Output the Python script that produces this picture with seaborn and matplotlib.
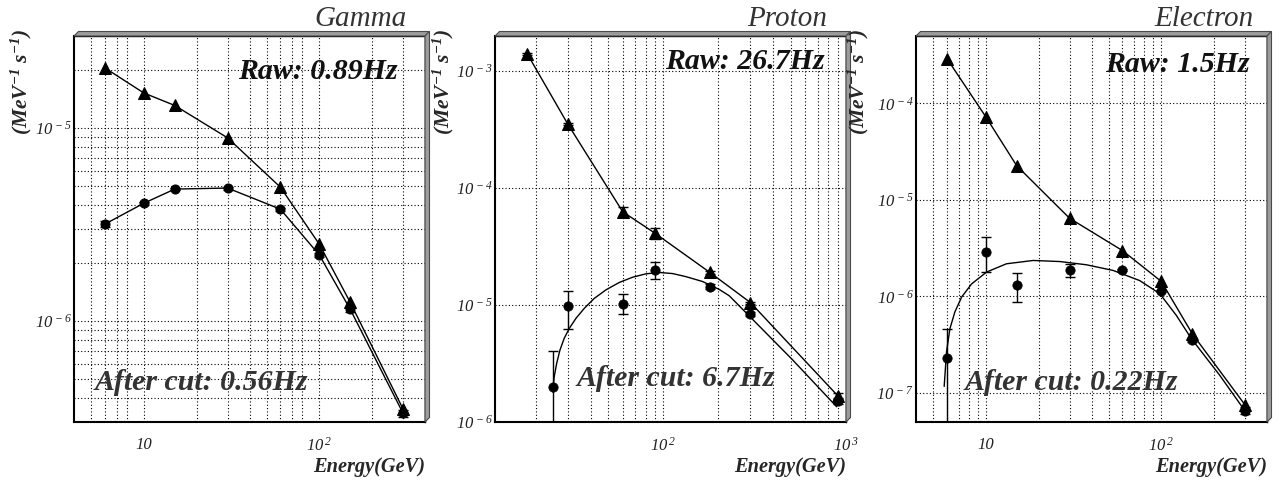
import numpy as np
import matplotlib
matplotlib.use("Agg")
import matplotlib.pyplot as plt
from matplotlib.patches import Polygon
from matplotlib.ticker import FixedLocator, NullFormatter, FuncFormatter
import seaborn as sns

sns.set_style("white")
plt.rcParams["font.family"] = ["Liberation Serif", "DejaVu Serif"]
plt.rcParams["mathtext.fontset"] = "custom"
plt.rcParams["mathtext.rm"] = "Liberation Serif:italic"
plt.rcParams["mathtext.it"] = "Liberation Serif:italic"
plt.rcParams["mathtext.bf"] = "Liberation Serif:italic:bold"

# ---------------- data ----------------
# Gamma
gamma_energy = [6, 10, 15, 30, 60, 100, 150, 300]
gamma_raw = [2.05e-5, 1.52e-5, 1.31e-5, 8.9e-6, 4.94e-6, 2.5e-6, 1.25e-6, 3.5e-7]
gamma_cut = [3.18e-6, 4.08e-6, 4.83e-6, 4.89e-6, 3.8e-6, 2.2e-6, 1.15e-6, 3.33e-7]
gamma_cut_lo = [3.06e-6, 4.0e-6, 4.75e-6, 4.8e-6, 3.74e-6, 2.16e-6, 1.12e-6, 3.2e-7]
gamma_cut_hi = [3.30e-6, 4.16e-6, 4.91e-6, 4.98e-6, 3.86e-6, 2.24e-6, 1.18e-6, 3.46e-7]

# Proton
proton_raw_energy = [18, 30, 60, 90, 180, 300, 900]
proton_raw = [1.41e-3, 3.54e-4, 6.28e-5, 4.12e-5, 1.90e-5, 1.05e-5, 1.68e-6]
proton_raw_lo = [1.38e-3, 3.48e-4, 5.75e-5, 3.66e-5, 1.86e-5, 1.03e-5, 1.6e-6]
proton_raw_hi = [1.44e-3, 3.60e-4, 6.86e-5, 4.6e-5, 1.94e-5, 1.07e-5, 1.76e-6]
proton_cut_energy = [25, 30, 60, 90, 180, 300, 900]
proton_cut = [2.0e-6, 9.8e-6, 1.02e-5, 2.0e-5, 1.44e-5, 8.4e-6, 1.5e-6]
proton_cut_lo = [1e-9, 6.24e-6, 8.4e-6, 1.66e-5, 1.36e-5, 8.1e-6, 1.42e-6]
proton_cut_hi = [4.05e-6, 1.32e-5, 1.24e-5, 2.35e-5, 1.52e-5, 8.7e-6, 1.58e-6]
proton_fit_energy = [24.8, 25.3, 26.1, 27.2, 28.7, 30.6, 33.3, 37.0, 41.9, 48.6, 57.4,
                     67.9, 80.4, 95.1, 112.4, 133.1, 164.1, 202.5, 229.8, 298, 512, 889]
proton_fit = [1.81e-6, 2.43e-6, 3.17e-6, 4.12e-6, 5.19e-6, 6.32e-6, 7.71e-6, 9.39e-6,
              1.14e-5, 1.35e-5, 1.56e-5, 1.73e-5, 1.85e-5, 1.90e-5, 1.86e-5, 1.75e-5,
              1.59e-5, 1.36e-5, 1.20e-5, 7.96e-6, 3.38e-6, 1.35e-6]

# Electron
electron_energy = [6, 10, 15, 30, 60, 100, 150, 300]
electron_raw = [2.92e-4, 7.26e-5, 2.26e-5, 6.46e-6, 2.99e-6, 1.43e-6, 4.11e-7, 7.5e-8]
electron_cut = [2.31e-7, 2.92e-6, 1.30e-6, 1.90e-6, 1.89e-6, 1.14e-6, 3.51e-7, 6.56e-8]
electron_cut_lo = [1e-9, 1.79e-6, 8.75e-7, 1.59e-6, 1.84e-6, 1.10e-6, 3.35e-7, 6.0e-8]
electron_cut_hi = [4.63e-7, 4.11e-6, 1.75e-6, 2.18e-6, 1.94e-6, 1.18e-6, 3.67e-7, 7.1e-8]
electron_fit_energy = [5.79, 5.97, 6.24, 6.66, 7.28, 8.30, 10.1, 13.1, 18.6, 26.4, 37.4,
                       53.1, 75.3, 97.9, 121.7, 148.2, 214.8, 295.4]
electron_fit = [1.17e-7, 2.66e-7, 4.63e-7, 6.90e-7, 9.86e-7, 1.35e-6, 1.79e-6, 2.18e-6,
                2.36e-6, 2.30e-6, 2.13e-6, 1.86e-6, 1.46e-6, 1.07e-6, 6.37e-7, 3.66e-7,
                1.53e-7, 6.76e-8]

titles = ["Gamma", "Proton", "Electron"]
raw_labels = ["Raw: 0.89Hz", "Raw: 26.7Hz", "Raw: 1.5Hz"]
cut_labels = ["After cut: 0.56Hz", "After cut: 6.7Hz", "After cut: 0.22Hz"]
x_label = "Energy(GeV)"
y_label = r"$\mathbf{(MeV^{-1}\ s^{-1})}$"

# ---------------- layout ----------------
W, H = 1280, 482
fig = plt.figure(figsize=(W / 100, H / 100), dpi=100)


def fx(px):
    return px / W


def fy(py):
    return 1 - py / H


def make_axes(left, right, top, bottom):
    return fig.add_axes([fx(left), fy(bottom), (right - left) / W, (bottom - top) / H])


def pow_label(v, pos):
    e = int(round(np.log10(v)))
    if e == 1:
        return "10"
    return r"$10^{\,%d}$" % e


def grid_values(lo, hi, skip=()):
    vals = []
    for e in range(int(np.floor(np.log10(lo))), int(np.ceil(np.log10(hi))) + 1):
        for m in range(1, 10):
            v = m * 10.0 ** e
            if lo * 1.001 < v < hi * 0.999 and m not in skip:
                vals.append(v)
    return vals


def style_axes(ax, xlim, ylim, xskip, ygrid_all):
    ax.set_xscale("log")
    ax.set_yscale("log")
    ax.set_xlim(*xlim)
    ax.set_ylim(*ylim)
    xdec = [10.0 ** e for e in range(-9, 5) if xlim[0] <= 10.0 ** e <= xlim[1] * 1.001]
    ydec = [10.0 ** e for e in range(-9, 5) if ylim[0] <= 10.0 ** e <= ylim[1] * 1.001]
    ax.xaxis.set_major_locator(FixedLocator(xdec))
    ax.yaxis.set_major_locator(FixedLocator(ydec))
    ax.xaxis.set_minor_locator(FixedLocator([v for v in grid_values(*xlim) if v not in xdec]))
    ax.yaxis.set_minor_locator(FixedLocator([v for v in grid_values(*ylim) if v not in ydec]))
    ax.xaxis.set_major_formatter(FuncFormatter(pow_label))
    ax.yaxis.set_major_formatter(FuncFormatter(pow_label))
    ax.xaxis.set_minor_formatter(NullFormatter())
    ax.yaxis.set_minor_formatter(NullFormatter())
    ax.tick_params(which="both", direction="in", top=False, right=False, color="k",
                   labelsize=12, width=1)
    ax.tick_params(which="major", length=10)
    ax.tick_params(which="minor", length=6)
    ax.tick_params(axis="x", which="major", pad=11)
    ax.tick_params(axis="y", which="major", pad=1.5)
    for lab in ax.get_xticklabels() + ax.get_yticklabels():
        lab.set_fontstyle("italic")
        lab.set_color("#222222")
    gkw = dict(color="k", lw=0.8, ls=(0, (1, 2)), zorder=0.5)
    for v in grid_values(*xlim, skip=xskip):
        ax.axvline(v, **gkw)
    ygr = grid_values(*ylim) if ygrid_all else [v for v in ydec if ylim[0] < v < ylim[1]]
    for v in ygr:
        ax.axhline(v, **gkw)
    for s in ax.spines.values():
        s.set_color("k")
        s.set_linewidth(1.0)
    ax.spines["left"].set_linewidth(1.5)
    ax.spines["bottom"].set_linewidth(1.5)
    # raised frame edge along the top and right sides
    px = 4.5
    dx = px / (ax.get_position().width * W)
    dy = px / (ax.get_position().height * H)
    top = Polygon([(0, 1), (dx, 1 + dy), (1 + dx, 1 + dy), (1, 1)], closed=True,
                  transform=ax.transAxes, clip_on=False, facecolor="#9c9c9c",
                  edgecolor="#4a4a4a", lw=0.8, zorder=5)
    side = Polygon([(1, 1), (1 + dx, 1 + dy), (1 + dx, dy), (1, 0)], closed=True,
                   transform=ax.transAxes, clip_on=False, facecolor="#9c9c9c",
                   edgecolor="#4a4a4a", lw=0.8, zorder=5)
    ax.add_patch(top)
    ax.add_patch(side)
    ax.set_xlabel("")
    ax.set_ylabel("")


line_kw = dict(color="k", lw=1.0, estimator=None, sort=False, legend=False)
tri_kw = dict(marker="^", markersize=8.5, markeredgecolor="k", markerfacecolor="k")
dot_kw = dict(marker="o", markersize=6.5, markeredgecolor="k", markerfacecolor="k")
err_kw = dict(fmt="none", ecolor="k", elinewidth=1.0, capsize=3.5, capthick=1.0, zorder=3)


def err(y, lo, hi):
    y = np.asarray(y)
    return [y - np.asarray(lo), np.asarray(hi) - y]


# Gamma panel
ax1 = make_axes(74, 425, 36, 422)
style_axes(ax1, (4, 400), (3e-7, 3e-5), xskip=(9,), ygrid_all=True)
sns.lineplot(x=gamma_energy, y=gamma_raw, ax=ax1, **line_kw, **tri_kw)
sns.lineplot(x=gamma_energy, y=gamma_cut, ax=ax1, **line_kw, **dot_kw)
ax1.errorbar(gamma_energy, gamma_cut, yerr=err(gamma_cut, gamma_cut_lo, gamma_cut_hi), **err_kw)

# Proton panel
ax2 = make_axes(495, 846, 36, 422)
style_axes(ax2, (12, 1000), (1e-6, 2e-3), xskip=(), ygrid_all=False)
sns.lineplot(x=proton_raw_energy, y=proton_raw, ax=ax2, **line_kw, **tri_kw)
ax2.errorbar(proton_raw_energy, proton_raw,
             yerr=err(proton_raw, proton_raw_lo, proton_raw_hi), **err_kw)
sns.lineplot(x=proton_fit_energy, y=proton_fit, ax=ax2, **line_kw)
sns.scatterplot(x=proton_cut_energy, y=proton_cut, ax=ax2, marker="o", s=45,
                color="k", edgecolor="k", zorder=4, legend=False)
ax2.errorbar(proton_cut_energy, proton_cut,
             yerr=err(proton_cut, proton_cut_lo, proton_cut_hi), **err_kw)

# Electron panel
ax3 = make_axes(916, 1267, 36, 422)
style_axes(ax3, (4, 400), (5e-8, 5e-4), xskip=(), ygrid_all=False)
sns.lineplot(x=electron_energy, y=electron_raw, ax=ax3, **line_kw, **tri_kw)
sns.lineplot(x=electron_fit_energy, y=electron_fit, ax=ax3, **line_kw)
sns.scatterplot(x=electron_energy, y=electron_cut, ax=ax3, marker="o", s=45,
                color="k", edgecolor="k", zorder=4, legend=False)
ax3.errorbar(electron_energy, electron_cut,
             yerr=err(electron_cut, electron_cut_lo, electron_cut_hi), **err_kw)

# ---------------- annotations ----------------
title_pos = [(407, 26), (827, 26), (1254, 26)]
raw_pos = [(398, 79), (825, 69), (1250, 72)]
cut_pos = [(95, 390), (577, 386), (965, 390)]
xlab_pos = [(425, 472), (846, 472), (1267, 472)]
ylab_pos = [(21, 29), (443, 29), (858, 29)]

for i in range(3):
    fig.text(fx(title_pos[i][0]), fy(title_pos[i][1]), titles[i], ha="right",
             va="baseline", fontsize=21, fontstyle="italic", color="#333333")
    fig.text(fx(raw_pos[i][0]), fy(raw_pos[i][1]), raw_labels[i], ha="right",
             va="baseline", fontsize=21.5, fontstyle="italic", fontweight="bold",
             color="#111111", zorder=10)
    fig.text(fx(cut_pos[i][0]), fy(cut_pos[i][1]), cut_labels[i], ha="left",
             va="baseline", fontsize=21.5, fontstyle="italic", fontweight="bold",
             color="#333333", zorder=10)
    fig.text(fx(xlab_pos[i][0]), fy(xlab_pos[i][1]), x_label, ha="right",
             va="baseline", fontsize=14.7, fontstyle="italic", fontweight="bold")
    fig.text(fx(ylab_pos[i][0]), fy(ylab_pos[i][1]), y_label, ha="center",
             va="top", rotation=90, fontsize=15.5)

fig.savefig("out.png", dpi=100)
